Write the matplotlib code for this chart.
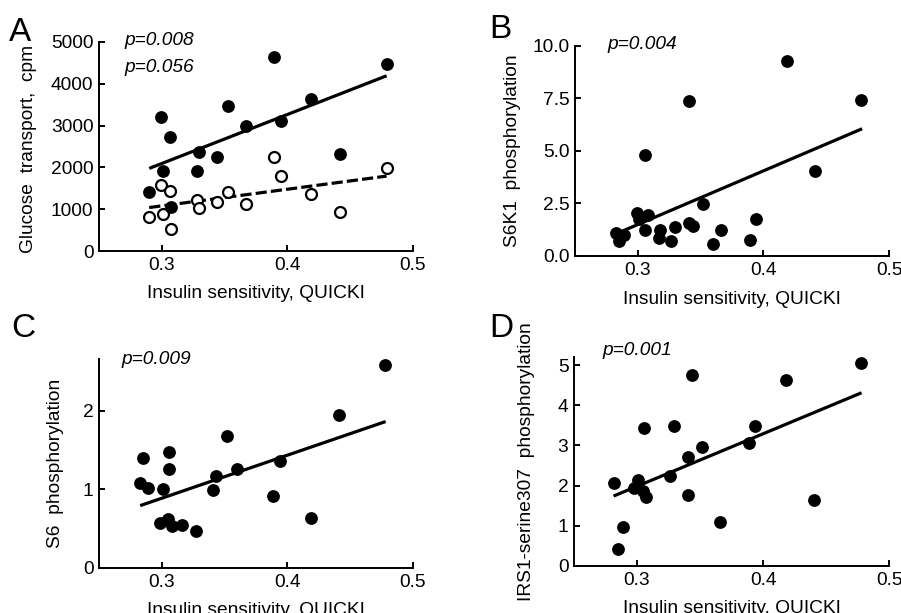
"""
Four scatter panels: glucose transport and phosphorylation markers
against insulin sensitivity (QUICKI), each with a fitted line.
"""
import matplotlib
matplotlib.use('Agg')
import matplotlib.pyplot as plt

plt.rcParams['font.family'] = ['Liberation Sans', 'DejaVu Sans']

# panel A: glucose transport, filled = insulin stimulated, open = basal
a_quicki = [0.290, 0.2995, 0.301, 0.3066, 0.307, 0.328, 0.330, 0.344,
            0.353, 0.367, 0.389, 0.395, 0.419, 0.442, 0.479]
a_filled = [1400, 3216, 1904, 2720, 1056, 1912, 2376, 2256,
            3472, 3000, 4640, 3120, 3640, 2320, 4480]
a_open = [816, 1576, 880, 1440, 536, 1232, 1024, 1176,
          1416, 1120, 2256, 1792, 1360, 936, 1992]
a_fit_x = [0.290, 0.479]
a_fit_filled = [1976, 4192]
a_fit_open = [1040, 1792]

# panel B: S6K1 phosphorylation
b_quicki = [0.2823, 0.2849, 0.2894, 0.299, 0.3008, 0.308, 0.306, 0.306,
            0.3175, 0.3167, 0.3265, 0.3294, 0.341, 0.341, 0.344, 0.352,
            0.360, 0.366, 0.389, 0.394, 0.419, 0.441, 0.4775]
b_s6k1 = [1.10, 0.70, 1.02, 2.05, 1.78, 1.97, 4.83, 1.25,
          1.25, 0.87, 0.71, 1.38, 7.37, 1.57, 1.41, 2.46,
          0.59, 1.22, 0.75, 1.75, 9.29, 4.05, 7.44]
b_fit_x = [0.2828, 0.4786]
b_fit_y = [1.06, 6.06]

# panel C: S6 phosphorylation
c_quicki = [0.2828, 0.2854, 0.2894, 0.3008, 0.2987, 0.3053, 0.308, 0.3061,
            0.3061, 0.3164, 0.327, 0.3411, 0.343, 0.352, 0.3602, 0.3889,
            0.3942, 0.4186, 0.4411, 0.4777]
c_s6 = [1.08, 1.40, 1.02, 1.006, 0.569, 0.624, 0.539, 1.473,
        1.261, 0.552, 0.476, 0.998, 1.168, 1.677, 1.261, 0.913,
        1.359, 0.633, 1.949, 2.590]
c_fit_x = [0.2828, 0.4782]
c_fit_y = [0.794, 1.864]

# panel D: IRS1 serine 307 phosphorylation
d_quicki = [0.2814, 0.2846, 0.2886, 0.3005, 0.2979, 0.3045, 0.3072, 0.3058,
            0.3263, 0.329, 0.3403, 0.3403, 0.3435, 0.3517, 0.3655, 0.3886,
            0.3934, 0.4181, 0.4406, 0.4777]
d_irs1 = [2.07, 0.415, 0.963, 2.13, 1.94, 1.86, 1.72, 3.44,
          2.23, 3.48, 2.72, 1.77, 4.75, 2.96, 1.10, 3.06,
          3.48, 4.64, 1.65, 5.04]
d_fit_x = [0.2814, 0.4782]
d_fit_y = [1.74, 4.31]

W, H = 901, 613
FS = 13.8
fig = plt.figure(figsize=(W / 100, H / 100), dpi=100)


def px_axes(left, top, right, bottom):
    # axes box given in pixel coordinates of the figure
    return fig.add_axes([left / W, (H - bottom) / H,
                         (right - left) / W, (bottom - top) / H])


def style(ax, ylim, yticks, yticklabels, ylabel, ylab_xy):
    ax.set_xlim(0.25, 0.5)
    ax.set_xticks([0.3, 0.4, 0.5])
    ax.set_xticklabels(['0.3', '0.4', '0.5'])
    ax.set_ylim(*ylim)
    ax.set_yticks(yticks)
    ax.set_yticklabels(yticklabels)
    for side in ('top', 'right'):
        ax.spines[side].set_visible(False)
    for side in ('left', 'bottom'):
        ax.spines[side].set_linewidth(1.4)
    ax.tick_params(direction='in', length=4, width=1.4, labelsize=FS)
    ax.tick_params(axis='x', pad=4)
    ax.tick_params(axis='y', pad=4)
    ax.set_xlabel('Insulin sensitivity, QUICKI', fontsize=FS)
    ax.xaxis.set_label_coords(0.5, -0.165)
    ax.set_ylabel(ylabel, fontsize=FS)
    ax.yaxis.set_label_coords(*ylab_xy)


dot = dict(s=85, color='black', zorder=3, linewidths=0)
fit = dict(color='black', lw=2.3, solid_capstyle='butt', zorder=2)

# A
ax = px_axes(99, 42, 413, 251)
ax.scatter(a_quicki, a_open, s=62, facecolor='white', edgecolor='black',
           linewidths=1.6, zorder=3)
ax.scatter(a_quicki, a_filled, **dot)
ax.plot(a_fit_x, a_fit_filled, **fit)
ax.plot(a_fit_x, a_fit_open, color='black', lw=2.3, ls=(0, (3.5, 1.3)),
        zorder=2)
style(ax, (0, 5000), [0, 1000, 2000, 3000, 4000, 5000],
      ['0', '1000', '2000', '3000', '4000', '5000'],
      'Glucose  transport,  cpm', (-0.197, 0.49))
ax.text(0.08, 1.005, 'p=0.008', transform=ax.transAxes, style='italic',
        fontsize=FS, va='center')
ax.text(0.08, 0.876, 'p=0.056', transform=ax.transAxes, style='italic',
        fontsize=FS, va='center')

# B
ax = px_axes(575, 46, 889, 256)
ax.scatter(b_quicki, b_s6k1, **dot)
ax.plot(b_fit_x, b_fit_y, **fit)
style(ax, (0, 10), [0, 2.5, 5, 7.5, 10],
      ['0.0', '2.5', '5.0', '7.5', '10.0'],
      'S6K1  phosphorylation', (-0.172, 0.5))
ax.text(0.105, 1.005, 'p=0.004', transform=ax.transAxes, style='italic',
        fontsize=FS, va='center')

# C
ax = px_axes(99, 359, 413, 568)
ax.scatter(c_quicki, c_s6, **dot)
ax.plot(c_fit_x, c_fit_y, **fit)
style(ax, (0, 2.66), [0, 1, 2], ['0', '1', '2'],
      'S6  phosphorylation', (-0.111, 0.5))
ax.text(0.073, 1.0, 'p=0.009', transform=ax.transAxes, style='italic',
        fontsize=FS, va='center')

# D
ax = px_axes(574, 357, 889, 566)
ax.scatter(d_quicki, d_irs1, **dot)
ax.plot(d_fit_x, d_fit_y, **fit)
style(ax, (0, 5.2), [0, 1, 2, 3, 4, 5], ['0', '1', '2', '3', '4', '5'],
      'IRS1-serine307  phosphorylation', (-0.124, 0.5))
ax.text(0.089, 1.029, 'p=0.001', transform=ax.transAxes, style='italic',
        fontsize=FS, va='center')

# panel letters
for letter, x, y in [('A', 9, 41), ('B', 489, 38), ('C', 11, 337), ('D', 489, 337)]:
    fig.text(x / W, (H - y) / H, letter, fontsize=24, va='baseline')

fig.savefig('out.png', dpi=100)
